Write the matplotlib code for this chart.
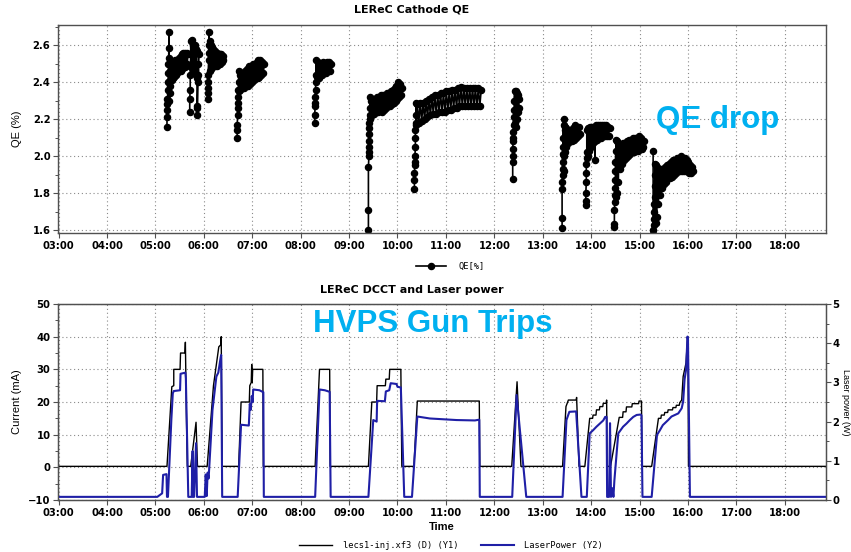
import matplotlib
matplotlib.use("Agg")
import matplotlib.pyplot as plt
from matplotlib.ticker import MultipleLocator, FixedLocator, FuncFormatter

# Cathode QE samples, (hour of day, QE %), one list per beam run
qe_run1 = [(5.24, 2.16), (5.24, 2.21), (5.25, 2.25), (5.25, 2.28), (5.25, 2.31), (5.26, 2.36),
           (5.26, 2.40), (5.27, 2.45), (5.27, 2.50), (5.28, 2.585), (5.28, 2.67), (5.28, 2.53),
           (5.29, 2.40), (5.29, 2.30), (5.30, 2.34), (5.30, 2.46), (5.31, 2.38), (5.31, 2.50),
           (5.32, 2.42), (5.33, 2.49), (5.34, 2.41), (5.35, 2.50), (5.36, 2.42), (5.37, 2.51),
           (5.38, 2.43), (5.39, 2.50), (5.40, 2.44), (5.41, 2.52), (5.42, 2.44), (5.43, 2.51),
           (5.44, 2.45), (5.45, 2.52), (5.46, 2.46), (5.47, 2.52), (5.48, 2.46), (5.49, 2.53),
           (5.50, 2.47), (5.51, 2.52), (5.52, 2.46), (5.53, 2.54), (5.54, 2.47), (5.55, 2.55),
           (5.56, 2.48), (5.57, 2.56), (5.58, 2.48), (5.59, 2.55), (5.60, 2.49), (5.61, 2.56),
           (5.62, 2.48), (5.63, 2.55), (5.64, 2.49), (5.65, 2.56), (5.66, 2.50), (5.67, 2.55)]
qe_run2 = [(5.71, 2.24), (5.71, 2.31), (5.72, 2.36), (5.72, 2.44), (5.73, 2.55), (5.73, 2.62),
           (5.74, 2.48), (5.75, 2.63), (5.76, 2.50), (5.77, 2.60), (5.78, 2.46), (5.79, 2.58),
           (5.80, 2.47), (5.81, 2.60), (5.82, 2.45), (5.83, 2.58), (5.84, 2.44), (5.85, 2.57),
           (5.86, 2.42), (5.86, 2.27), (5.87, 2.22), (5.87, 2.26), (5.88, 2.40), (5.88, 2.50),
           (5.89, 2.44), (5.90, 2.55)]
qe_run3 = [(6.08, 2.31), (6.08, 2.34), (6.08, 2.37), (6.09, 2.40), (6.09, 2.44), (6.10, 2.52),
           (6.10, 2.60), (6.11, 2.67), (6.11, 2.56), (6.12, 2.46), (6.13, 2.62), (6.14, 2.47),
           (6.15, 2.60), (6.16, 2.48), (6.17, 2.59), (6.18, 2.48), (6.19, 2.58), (6.20, 2.49),
           (6.21, 2.57), (6.22, 2.49), (6.23, 2.57), (6.24, 2.49), (6.25, 2.56), (6.26, 2.50),
           (6.27, 2.56), (6.28, 2.49), (6.29, 2.55), (6.30, 2.50), (6.31, 2.55), (6.32, 2.50),
           (6.33, 2.55), (6.34, 2.50), (6.35, 2.55), (6.36, 2.51), (6.37, 2.54), (6.38, 2.51),
           (6.39, 2.54), (6.40, 2.52)]
qe_run4 = [(6.69, 2.10), (6.69, 2.14), (6.69, 2.17), (6.70, 2.22), (6.70, 2.26), (6.70, 2.29),
           (6.71, 2.32), (6.71, 2.36), (6.72, 2.40), (6.72, 2.46), (6.73, 2.35), (6.74, 2.44),
           (6.75, 2.36), (6.77, 2.45), (6.79, 2.37), (6.81, 2.44), (6.83, 2.37), (6.85, 2.46),
           (6.87, 2.38), (6.89, 2.47), (6.91, 2.38), (6.93, 2.49), (6.95, 2.39), (6.97, 2.49),
           (6.99, 2.40), (7.01, 2.50), (7.03, 2.41), (7.05, 2.50), (7.07, 2.42), (7.09, 2.51),
           (7.11, 2.42), (7.13, 2.52), (7.15, 2.43), (7.17, 2.52), (7.19, 2.44), (7.21, 2.51),
           (7.23, 2.45), (7.25, 2.50)]
qe_run5 = [(8.29, 2.18), (8.29, 2.22), (8.30, 2.27), (8.30, 2.29), (8.30, 2.32), (8.31, 2.36),
           (8.31, 2.40), (8.32, 2.44), (8.32, 2.52), (8.33, 2.43), (8.35, 2.51), (8.37, 2.42),
           (8.39, 2.50), (8.41, 2.44), (8.43, 2.50), (8.45, 2.44), (8.47, 2.51), (8.49, 2.45),
           (8.51, 2.50), (8.53, 2.45), (8.55, 2.51), (8.57, 2.46), (8.59, 2.51), (8.61, 2.46),
           (8.63, 2.50)]
qe_run6 = [(9.40, 1.60), (9.40, 1.71), (9.40, 1.94), (9.41, 2.00), (9.41, 2.02), (9.41, 2.05),
           (9.42, 2.08), (9.42, 2.12), (9.42, 2.15), (9.42, 2.18), (9.43, 2.22), (9.43, 2.26),
           (9.43, 2.32), (9.44, 2.20), (9.46, 2.30), (9.48, 2.22), (9.50, 2.31), (9.52, 2.23),
           (9.54, 2.31), (9.56, 2.24), (9.58, 2.32), (9.60, 2.24), (9.62, 2.32), (9.64, 2.25),
           (9.66, 2.33), (9.68, 2.24), (9.70, 2.33), (9.72, 2.25), (9.74, 2.33), (9.76, 2.26),
           (9.78, 2.34), (9.80, 2.27), (9.82, 2.34), (9.84, 2.27), (9.86, 2.35), (9.88, 2.28),
           (9.90, 2.36), (9.92, 2.29), (9.94, 2.37), (9.96, 2.30), (9.98, 2.38), (10.00, 2.31),
           (10.02, 2.40), (10.04, 2.32), (10.06, 2.39), (10.08, 2.33), (10.10, 2.37)]
qe_run7 = [(10.35, 1.82), (10.35, 1.87), (10.35, 1.91), (10.36, 1.95), (10.36, 1.97), (10.36, 2.00),
           (10.37, 2.05), (10.37, 2.10), (10.37, 2.14), (10.38, 2.18), (10.38, 2.22), (10.38, 2.29),
           (10.39, 2.17), (10.41, 2.28), (10.44, 2.18), (10.47, 2.29), (10.50, 2.19), (10.53, 2.29),
           (10.56, 2.20), (10.59, 2.30), (10.62, 2.21), (10.65, 2.31), (10.68, 2.22), (10.71, 2.32),
           (10.74, 2.23), (10.77, 2.33), (10.80, 2.23), (10.83, 2.33), (10.86, 2.24), (10.89, 2.34),
           (10.92, 2.24), (10.95, 2.34), (10.98, 2.24), (11.01, 2.35), (11.04, 2.25), (11.07, 2.35),
           (11.10, 2.25), (11.13, 2.36), (11.16, 2.26), (11.19, 2.36), (11.22, 2.26), (11.25, 2.37),
           (11.28, 2.27), (11.31, 2.375), (11.34, 2.27), (11.37, 2.37), (11.40, 2.27), (11.43, 2.37),
           (11.46, 2.27), (11.49, 2.37), (11.52, 2.27), (11.55, 2.37), (11.58, 2.27), (11.61, 2.37),
           (11.64, 2.27), (11.67, 2.37), (11.70, 2.27), (11.73, 2.36)]
qe_run8 = [(12.38, 1.875), (12.38, 1.97), (12.38, 2.00), (12.38, 2.04), (12.39, 2.08), (12.39, 2.10),
           (12.39, 2.13), (12.40, 2.17), (12.40, 2.21), (12.41, 2.25), (12.41, 2.30), (12.42, 2.35),
           (12.43, 2.18), (12.44, 2.355), (12.45, 2.16), (12.46, 2.34), (12.47, 2.20), (12.48, 2.33),
           (12.49, 2.24), (12.50, 2.31), (12.51, 2.26)]
qe_run9 = [(13.40, 1.61), (13.40, 1.665), (13.40, 1.82), (13.40, 1.86), (13.41, 1.90), (13.41, 1.93),
           (13.41, 1.97), (13.42, 2.01), (13.42, 2.05), (13.42, 2.10), (13.43, 2.20), (13.43, 2.00),
           (13.44, 2.17), (13.44, 1.92), (13.45, 2.14), (13.45, 2.02), (13.46, 2.16), (13.47, 2.05),
           (13.48, 2.15), (13.49, 2.05), (13.51, 2.14), (13.53, 2.07), (13.55, 2.13), (13.57, 2.08),
           (13.59, 2.13), (13.61, 2.08), (13.63, 2.15), (13.65, 2.09), (13.67, 2.17), (13.69, 2.10),
           (13.71, 2.16), (13.73, 2.11), (13.75, 2.16), (13.77, 2.12)]
qe_run10 = [(13.89, 1.735), (13.89, 1.755), (13.89, 1.80), (13.90, 1.86), (13.90, 1.91), (13.90, 1.96),
            (13.91, 2.02), (13.91, 2.14), (13.92, 1.99), (13.93, 2.15), (13.94, 2.00), (13.95, 2.15),
            (13.96, 2.03), (13.98, 2.16), (14.00, 2.05), (14.02, 2.16), (14.04, 2.07), (14.06, 2.16),
            (14.08, 1.98), (14.08, 2.08), (14.10, 2.17), (14.12, 2.09), (14.14, 2.17), (14.16, 2.10),
            (14.18, 2.17), (14.20, 2.10), (14.22, 2.17), (14.24, 2.11), (14.26, 2.17), (14.28, 2.11),
            (14.30, 2.17), (14.32, 2.11), (14.34, 2.16), (14.36, 2.11), (14.38, 2.15)]
qe_run11 = [(14.48, 1.615), (14.48, 1.635), (14.48, 1.71), (14.49, 1.75), (14.49, 1.79), (14.49, 1.83),
            (14.50, 1.87), (14.50, 1.92), (14.50, 1.97), (14.51, 2.03), (14.51, 2.09), (14.52, 1.78),
            (14.53, 2.08), (14.54, 1.80), (14.55, 2.07), (14.56, 1.86), (14.58, 2.05), (14.60, 1.93),
            (14.62, 2.06), (14.64, 1.96), (14.66, 2.07), (14.68, 1.98), (14.70, 2.07), (14.72, 1.99),
            (14.74, 2.08), (14.76, 2.00), (14.78, 2.09), (14.80, 2.01), (14.82, 2.09), (14.84, 2.02),
            (14.86, 2.10), (14.88, 2.02), (14.90, 2.10), (14.92, 2.03), (14.94, 2.10), (14.96, 2.03),
            (14.98, 2.11), (15.00, 2.04), (15.02, 2.10), (15.04, 2.04), (15.06, 2.09), (15.08, 2.05),
            (15.10, 2.08)]
qe_run12 = [(15.28, 2.03), (15.28, 1.58), (15.28, 1.60), (15.29, 1.63), (15.29, 1.66), (15.30, 1.70),
            (15.30, 1.74), (15.31, 1.78), (15.31, 1.84), (15.32, 1.90), (15.32, 1.96), (15.33, 1.64),
            (15.34, 1.95), (15.35, 1.67), (15.37, 1.94), (15.39, 1.74), (15.41, 1.93), (15.43, 1.79),
            (15.45, 1.93), (15.47, 1.83), (15.49, 1.93), (15.51, 1.85), (15.53, 1.94), (15.55, 1.86),
            (15.57, 1.95), (15.59, 1.88), (15.61, 1.96), (15.63, 1.88), (15.65, 1.97), (15.67, 1.89),
            (15.69, 1.98), (15.71, 1.90), (15.73, 1.98), (15.75, 1.91), (15.77, 1.99), (15.79, 1.92),
            (15.81, 1.99), (15.83, 1.92), (15.85, 2.00), (15.87, 1.92), (15.89, 1.99), (15.91, 1.92),
            (15.93, 1.99), (15.95, 1.92), (15.97, 1.98), (15.99, 1.92), (16.01, 1.97), (16.03, 1.91),
            (16.05, 1.95), (16.07, 1.91), (16.09, 1.94), (16.11, 1.92)]
qe_runs = [qe_run1, qe_run2, qe_run3, qe_run4, qe_run5, qe_run6,
           qe_run7, qe_run8, qe_run9, qe_run10, qe_run11, qe_run12]

# DCCT beam current lecs1-inj.xf3, (hour, mA)
dcct = [(2.99, 0.3), (5.24, 0.3), (5.34, 24.7), (5.38, 25), (5.38, 30), (5.51, 30), (5.52, 35),
        (5.61, 35), (5.62, 38.3), (5.64, 17), (5.66, 0.3), (5.73, 0.3), (5.84, 13.8), (5.87, 0.3),
        (6.07, 0.3), (6.20, 25), (6.31, 36.9), (6.35, 37.5), (6.36, 40), (6.38, 0.3), (6.72, 0.3),
        (6.77, 20), (6.94, 20), (6.95, 25), (6.98, 26), (6.99, 31.5), (7.00, 26), (7.01, 30),
        (7.22, 30), (7.23, 0.3), (8.30, 0.3), (8.39, 30), (8.60, 30), (8.61, 0.3), (9.40, 0.3),
        (9.47, 20), (9.57, 20), (9.58, 25), (9.75, 25), (9.76, 27), (9.83, 27), (9.84, 30),
        (10.07, 30), (10.09, 0.3), (10.34, 0.3), (10.41, 20.3), (11.69, 20.3), (11.70, 0.3),
        (12.36, 0.3), (12.47, 26.2), (12.55, 0.3), (13.41, 0.3), (13.48, 18.6), (13.53, 20.6),
        (13.69, 20.6), (13.70, 21.4), (13.75, 0.3), (13.87, 0.3), (13.97, 15.0), (14.03, 15.0),
        (14.04, 16.0), (14.10, 16.0), (14.11, 17.6), (14.17, 17.6), (14.18, 18.6), (14.24, 18.6),
        (14.25, 19.6), (14.31, 19.6), (14.32, 20.6), (14.33, 0.3), (14.40, 0.3), (14.58, 15.3),
        (14.65, 15.3), (14.66, 17.0), (14.72, 17.0), (14.73, 18.5), (14.84, 18.5), (14.85, 19.5),
        (14.98, 19.5), (14.99, 20.3), (15.04, 20.3), (15.05, 0.3), (15.25, 0.3), (15.39, 15.0),
        (15.44, 15.0), (15.45, 16.0), (15.51, 16.0), (15.52, 16.8), (15.58, 16.8), (15.59, 17.6),
        (15.68, 17.6), (15.69, 18.3), (15.75, 18.3), (15.76, 19.0), (15.82, 19.0), (15.83, 19.8),
        (15.87, 20.6), (15.90, 27.8), (15.96, 32.0), (15.99, 39.5), (16.00, 38.5), (16.01, 0.3),
        (18.85, 0.3)]

# Laser power, (hour, W)
laser = [(2.99, 0.08), (5.04, 0.08), (5.14, 0.17), (5.16, 0.64), (5.23, 0.66), (5.24, 0.08),
         (5.26, 0.08), (5.33, 2.05), (5.36, 2.72), (5.38, 2.78), (5.51, 2.80), (5.52, 3.22),
         (5.62, 3.25), (5.63, 3.10), (5.68, 0.08), (5.75, 0.08), (5.77, 1.25), (5.78, 0.08),
         (5.80, 0.08), (5.84, 1.45), (5.86, 0.08), (6.02, 0.08), (6.04, 0.65), (6.06, 0.10),
         (6.08, 0.70), (6.10, 0.55), (6.18, 2.30), (6.26, 3.15), (6.30, 3.25), (6.35, 3.65),
         (6.36, 3.70), (6.38, 0.08), (6.70, 0.08), (6.77, 1.92), (6.93, 1.90), (6.95, 2.45),
         (6.97, 2.30), (6.99, 2.65), (7.01, 2.50), (7.02, 2.82), (7.15, 2.80), (7.23, 2.75),
         (7.24, 0.08), (8.30, 0.08), (8.39, 2.82), (8.50, 2.80), (8.60, 2.76), (8.62, 0.08),
         (9.40, 0.08), (9.50, 2.04), (9.57, 2.00), (9.58, 2.53), (9.74, 2.52), (9.76, 2.77),
         (9.83, 2.80), (9.86, 2.98), (9.98, 2.96), (10.00, 2.89), (10.07, 2.87), (10.14, 0.08),
         (10.30, 0.08), (10.41, 2.13), (10.67, 2.08), (11.22, 2.04), (11.60, 2.03), (11.69, 2.05),
         (11.70, 0.08), (12.37, 0.08), (12.46, 2.68), (12.66, 0.08), (13.41, 0.08), (13.49, 2.04),
         (13.55, 2.25), (13.69, 2.26), (13.80, 0.08), (13.91, 0.08), (13.97, 1.70), (14.04, 1.78),
         (14.11, 1.87), (14.18, 1.95), (14.25, 2.03), (14.29, 2.12), (14.32, 2.12), (14.33, 0.08),
         (14.37, 0.08), (14.39, 1.96), (14.41, 0.08), (14.44, 0.30), (14.46, 0.08), (14.48, 0.50),
         (14.56, 1.70), (14.66, 1.87), (14.73, 1.95), (14.80, 2.04), (14.87, 2.12), (14.94, 2.17),
         (15.02, 2.18), (15.04, 2.16), (15.06, 0.08), (15.25, 0.08), (15.36, 1.66), (15.42, 1.78),
         (15.48, 1.91), (15.59, 2.04), (15.66, 2.13), (15.73, 2.17), (15.80, 2.21), (15.87, 2.34),
         (15.90, 2.51), (15.93, 3.08), (15.96, 3.32), (15.99, 4.17), (16.00, 4.10), (16.04, 0.08),
         (18.85, 0.08)]

hour_ticks = list(range(3, 19))
qe_ticks = [1.6, 1.8, 2.0, 2.2, 2.4, 2.6]
current_ticks = [-10, 0, 10, 20, 30, 40, 50]
power_ticks = [0, 1, 2, 3, 4, 5]

BLUE = "#1f1fa6"
CYAN = "#00b0f0"
FRAME = "#505050"
tick_font = dict(family="DejaVu Sans", weight="bold", size=7.2)
mono = dict(family="DejaVu Sans Mono", size=6.3)

fig = plt.figure(figsize=(8.51, 5.52), dpi=100)
ax_qe = fig.add_axes([0.0682, 0.578, 0.9024, 0.377])
ax_i = fig.add_axes([0.0682, 0.0942, 0.9024, 0.355])
ax_p = ax_i.twinx()

hour_fmt = FuncFormatter(lambda h, pos: "%02d:00" % int(round(h)))


def style_axes(ax):
    for sp in ax.spines.values():
        sp.set_color(FRAME)
        sp.set_linewidth(1.0)
    ax.set_xlim(2.99, 18.85)
    ax.xaxis.set_major_locator(FixedLocator(hour_ticks))
    ax.xaxis.set_major_formatter(hour_fmt)
    ax.tick_params(axis="both", which="major", length=3.5, width=0.8, color=FRAME, pad=2)
    ax.tick_params(axis="y", which="minor", length=2, width=0.7, color=FRAME)
    ax.grid(True, which="major", color="#8a8a8a", linestyle=(0, (1, 2.5)), linewidth=0.8)
    for lab in ax.get_xticklabels() + ax.get_yticklabels():
        lab.set_fontproperties(tick_font)


# QE panel
qe_line = None
for run in qe_runs:
    t, q = zip(*run)
    qe_line, = ax_qe.plot(t, q, "-o", color="black", lw=1.2, ms=4.4, mec="black", mfc="black")
ax_qe.set_ylim(1.585, 2.71)
ax_qe.yaxis.set_major_locator(FixedLocator(qe_ticks))
ax_qe.yaxis.set_minor_locator(MultipleLocator(0.1))
ax_qe.yaxis.set_major_formatter(FuncFormatter(lambda v, pos: "%.1f" % v))
style_axes(ax_qe)
ax_qe.set_ylabel("QE (%)", family="Liberation Sans", size=8)
ax_qe.yaxis.set_label_coords(-0.047, 0.5)

# current and laser power panel
t_i, i_ma = zip(*dcct)
t_p, p_w = zip(*laser)
cur_line, = ax_i.plot(t_i, i_ma, color="black", lw=1.0)
pow_line, = ax_p.plot(t_p, p_w, color=BLUE, lw=1.5)
ax_i.set_ylim(-10, 50)
ax_i.yaxis.set_major_locator(FixedLocator(current_ticks))
ax_i.yaxis.set_minor_locator(MultipleLocator(5))
style_axes(ax_i)
ax_i.set_ylabel("Current (mA)", family="Liberation Sans", size=8)
ax_i.yaxis.set_label_coords(-0.047, 0.5)
ax_i.set_xlabel("Time", family="Liberation Sans", weight="bold", size=8, labelpad=3)

ax_p.set_ylim(0, 5)
ax_p.yaxis.set_major_locator(FixedLocator(power_ticks))
ax_p.yaxis.set_minor_locator(MultipleLocator(0.5))
for sp in ax_p.spines.values():
    sp.set_color(FRAME)
ax_p.tick_params(axis="y", which="major", length=3.5, width=0.8, color=FRAME, pad=1.2)
ax_p.tick_params(axis="y", which="minor", length=2, width=0.7, color=FRAME)
for lab in ax_p.get_yticklabels():
    lab.set_fontproperties(tick_font)
fig.text(0.9935, 0.272, "Laser power (W)", rotation=270, ha="center", va="center",
         family="Liberation Sans", size=6.5)

# titles
fig.text(0.484, 0.982, "LEReC Cathode QE", ha="center", va="center",
         family="DejaVu Sans", weight="bold", size=8)
fig.text(0.484, 0.475, "LEReC DCCT and Laser power", ha="center", va="center",
         family="DejaVu Sans", weight="bold", size=8)

# legends
fig.legend([qe_line], ["QE[%]"], loc="center", bbox_to_anchor=(0.529, 0.518),
           frameon=False, prop=mono, handlelength=3.4, handletextpad=1.4)
fig.legend([cur_line, pow_line], ["lecs1-inj.xf3 (D) (Y1)", "LaserPower (Y2)"],
           loc="center", bbox_to_anchor=(0.530, 0.011), ncol=2, frameon=False, prop=mono,
           handlelength=3.8, handletextpad=1.15, columnspacing=2.6)

# annotations
fig.text(656 / 851, 1 - 128 / 552, "QE drop", color=CYAN, ha="left", va="baseline",
         family="Liberation Sans", weight="bold", size=22.5)
fig.text(313 / 851, 1 - 332 / 552, "HVPS Gun Trips", color=CYAN, ha="left", va="baseline",
         family="Liberation Sans", weight="bold", size=22.5)

fig.savefig("out.png", dpi=100)
